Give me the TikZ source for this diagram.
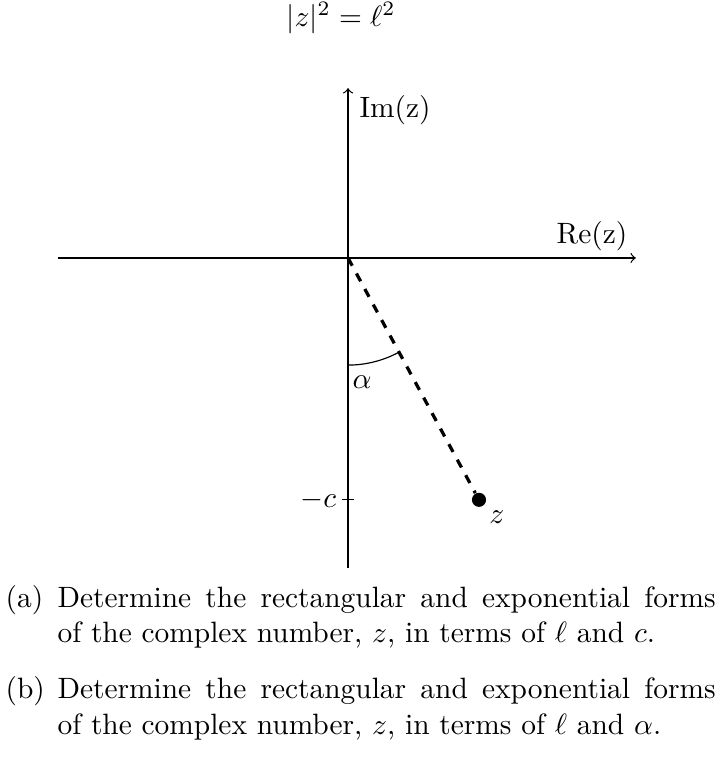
\documentclass[tikz,border=0pt]{standalone}
\usepackage{amsmath, amsfonts, amssymb}

\begin{document}
\begin{tikzpicture}
\useasboundingbox (-4.159,-6.071) rectangle (4.469,3.083);
% axes
\coordinate (O) at (0,0);
\coordinate (W) at (-3.47,0);
\coordinate (E) at (3.44,0);
\coordinate (S) at (0,-3.70);
\coordinate (N) at (0,2.03);
\draw[->] (W) -- (E);
\draw[->] (S) -- (N);
\path (2.916,0.263) node (Re) {Re(z)};
\path (0.562,1.769) node (Im) {Im(z)};
\path (-0.084,2.868) node (eq) {$|z|^2 = \ell^2$};
% the point z
\coordinate (C) at (0,-2.89);
\draw ([xshift=-2pt]C) -- ([xshift=2pt]C);
\path (C) node[left=0.5pt] (mc) {$-c$};
\node[circle, fill, inner sep=0pt, minimum size=4.8pt] (Z) at (1.565,-2.89) {};
\path (1.78,-3.10) node (zl) {$z$};
\draw[line width=1.1pt, dash pattern=on 3pt off 3pt] (O) -- (Z);
\draw (0,-1.28) arc (-90:-61.6:1.28);
\path (0.167,-1.482) node (al) {$\alpha$};
% questions
\path (-4.099,-4.171) node[anchor=base west, inner sep=0pt] (qa) {(a)};
\path (-3.478,-4.171) node[anchor=base west, inner sep=0pt, text width=7.864cm, align=justify] (ta)
  {Determine the rectangular and exponential forms\linebreak of the complex number, $z$, in terms of $\ell$ and $c$.};
\path (-4.099,-5.270) node[anchor=base west, inner sep=0pt] (qb) {(b)};
\path (-3.478,-5.270) node[anchor=base west, inner sep=0pt, text width=7.864cm, align=justify] (tb)
  {Determine the rectangular and exponential forms\linebreak of the complex number, $z$, in terms of $\ell$ and $\alpha$.};
\end{tikzpicture}
\end{document}
